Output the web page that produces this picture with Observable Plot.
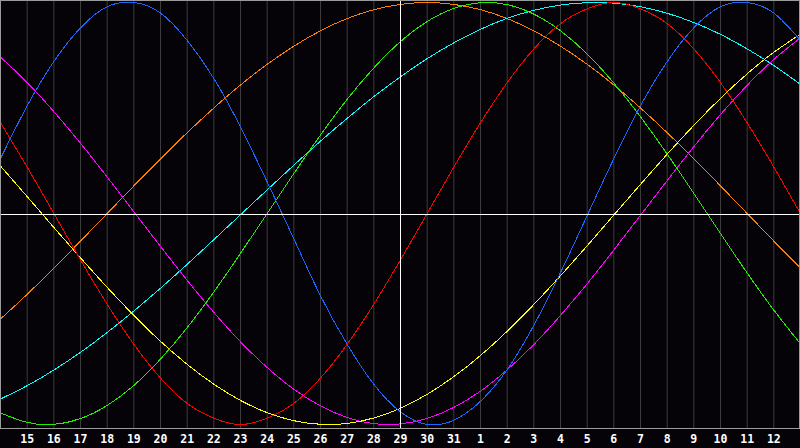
<!DOCTYPE html>
<html><head><meta charset="utf-8">
<script src="https://cdn.jsdelivr.net/npm/d3@7"></script>
<script src="https://cdn.jsdelivr.net/npm/@observablehq/plot@0.6"></script>
<style>html,body{margin:0;padding:0;background:#050308;}</style>
</head><body><div id="chart"></div>
<script>
// day index 0..30 (Dec 14 .. Jan 13); labels shown for indices 1..29
const tickDays = d3.range(1, 30);
const tickLabels = ["15","16","17","18","19","20","21","22","23","24","25","26","27","28","29","30","31",
  "1","2","3","4","5","6","7","8","9","10","11","12"];
const todayIndex = 15;

// cycle values (-1..1) read at each day index 0..30
const physical = [0.26,0.51,0.72,0.88,0.98,1.00,0.95,0.82,0.64,0.41,0.15,-0.12,-0.39,-0.62,-0.81,-0.94,-1.00,-0.98,-0.89,-0.74,-0.53,-0.28,-0.01,0.26,0.51,0.72,0.88,0.98,1.00,0.95,0.82];
const emotional = [0.43,0.22,0.00,-0.22,-0.43,-0.62,-0.78,-0.90,-0.97,-1.00,-0.97,-0.90,-0.78,-0.62,-0.43,-0.22,0.00,0.22,0.43,0.62,0.78,0.90,0.97,1.00,0.97,0.90,0.78,0.62,0.43,0.22,0.00];
const intellectual = [-0.945,-0.99,-0.999,-0.972,-0.91,-0.815,-0.69,-0.541,-0.372,-0.189,0.00,0.189,0.372,0.541,0.69,0.815,0.91,0.972,0.999,0.99,0.945,0.866,0.756,0.618,0.458,0.282,0.095,-0.095,-0.282,-0.458,-0.618];
const awareness = [-0.50,-0.383,-0.259,-0.131,0.00,0.131,0.259,0.383,0.50,0.609,0.707,0.793,0.866,0.924,0.966,0.991,1.00,0.991,0.966,0.924,0.866,0.793,0.707,0.609,0.50,0.383,0.259,0.131,0.00,-0.131,-0.259];
const spiritual = [-0.879,-0.816,-0.742,-0.658,-0.564,-0.462,-0.354,-0.241,-0.124,-0.006,0.112,0.229,0.343,0.451,0.554,0.648,0.734,0.809,0.873,0.925,0.963,0.988,0.999,0.997,0.98,0.949,0.905,0.849,0.78,0.701,0.612];
const intuitive = [0.741,0.621,0.483,0.333,0.173,0.008,-0.156,-0.317,-0.469,-0.608,-0.73,-0.833,-0.912,-0.967,-0.996,-0.997,-0.971,-0.919,-0.842,-0.741,-0.621,-0.483,-0.333,-0.173,-0.008,0.156,0.317,0.469,0.608,0.73,0.833];
const aesthetic = [0.225,0.080,-0.066,-0.21,-0.35,-0.483,-0.606,-0.715,-0.809,-0.886,-0.944,-0.982,-0.999,-0.995,-0.969,-0.923,-0.857,-0.773,-0.673,-0.558,-0.431,-0.295,-0.153,-0.007,0.138,0.281,0.418,0.546,0.662,0.764,0.85];

const seriesList = [
  {name: "awareness", values: awareness, color: "#ff8000"},
  {name: "spiritual", values: spiritual, color: "#00ffff"},
  {name: "intuitive", values: intuitive, color: "#ff00ff"},
  {name: "aesthetic", values: aesthetic, color: "#ffff00"},
  {name: "intellectual", values: intellectual, color: "#22f000"},
  {name: "emotional", values: emotional, color: "#ff0000"},
  {name: "physical", values: physical, color: "#1a66ff"}
];

const lineMarks = seriesList.map(s =>
  Plot.line(s.values.map((v, i) => ({day: i, value: v})), {
    x: "day", y: "value", stroke: s.color, strokeWidth: 1, curve: "natural",
    shapeRendering: "crispEdges"
  })
);

const chart = Plot.plot({
  width: 800, height: 448,
  marginTop: 0, marginLeft: 0, marginRight: 1, marginBottom: 20,
  style: {background: "#050308", overflow: "visible"},
  x: {domain: [0, 30], range: [0, 800], axis: null},
  y: {domain: [-1, 1], range: [424, 2], axis: null},
  marks: [
    Plot.ruleX(tickDays.filter(d => d !== todayIndex), {stroke: "#3c3c3c", strokeWidth: 1}),
    ...lineMarks,
    Plot.ruleX([todayIndex], {stroke: "#ffffff", strokeWidth: 1}),
    Plot.ruleY([0], {stroke: "#ffffff", strokeWidth: 1, dy: 1}),
    Plot.frame({stroke: "#9a9a9a"}),
    Plot.text(tickDays, {
      x: d => d, frameAnchor: "bottom", dy: 11, lineAnchor: "middle",
      text: d => tickLabels[d - 1], fill: "#ffffff",
      fontFamily: "DejaVu Sans Mono", fontWeight: "bold", fontSize: 11.5
    })
  ]
});
document.getElementById("chart").appendChild(chart);
</script>
</body></html>
